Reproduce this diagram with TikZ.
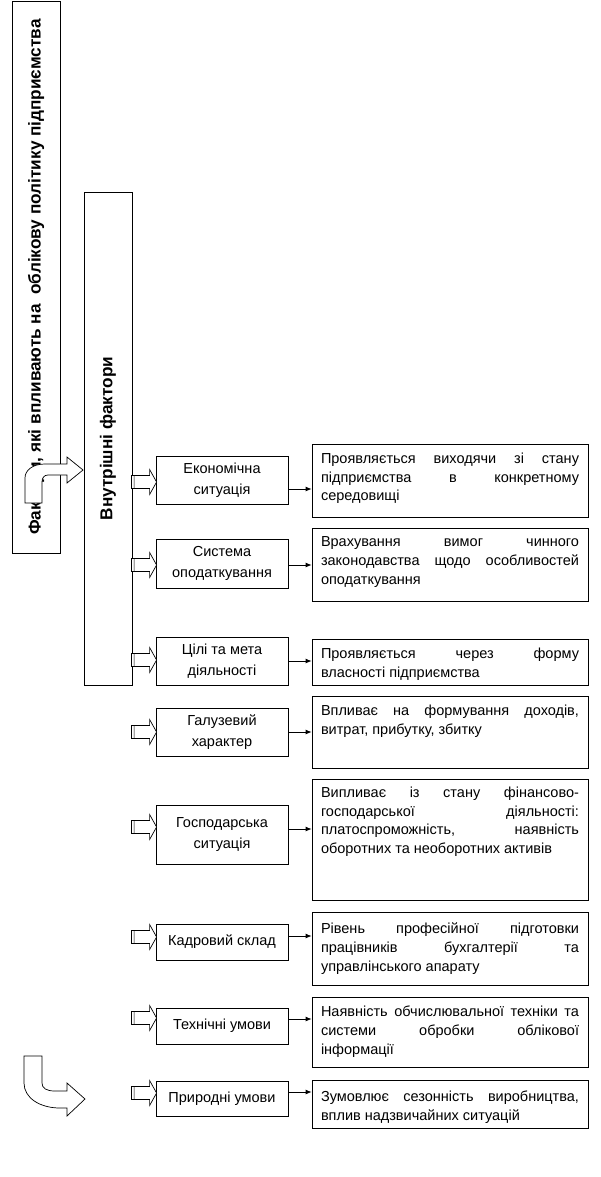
\documentclass[tikz,border=0pt]{standalone}
\usepackage{fontspec}
\setmainfont{Liberation Sans}
\usetikzlibrary{arrows.meta,calc}
\newcommand\blockarr[2]{%
  \begin{scope}[shift={($(#1.west)+(0,#2)$)}]
    \draw[blk] (-24,-6.5) rectangle (-21.5,6.5);
    \draw[blk] (-21.5,-6.5) -- (-6,-6.5) -- (-6,-12.5) -- (1,0) -- (-6,12.5) -- (-6,6.5) -- (-21.5,6.5) -- cycle;
  \end{scope}}
\begin{document}
\begin{tikzpicture}[x=1pt,y=-1pt,line width=0.8pt,
  fbox/.style={draw, minimum width=132pt, align=center, inner sep=0pt, font=\fontsize{14.5}{20.5}\selectfont},
  tbox/.style={draw, minimum width=276pt, inner sep=0pt},
  ttext/.style={anchor=north west, inner sep=0pt, text width=258pt, align=justify, font=\fontsize{14.5}{18.7}\selectfont},
  vbox/.style={draw, rotate=90, minimum height=48pt, inner sep=0pt, font=\bfseries\fontsize{17.2}{17}\selectfont},
  conn/.style={-{Latex[length=6pt,width=5pt]}},
  blk/.style={draw, fill=white, line width=0.7pt},
  bent/.style={draw, fill=white, line width=0.7pt}]
\useasboundingbox (0,0) rectangle (601,1177);

% vertical boxes
\node[vbox, minimum width=552pt] (outer) at (36,277) {Фактори, які впливають на~ облікову політику підприємства};
\node[vbox, minimum width=493pt] (inner) at (108,438.5) {Внутрішні фактори};

% factor boxes
\node[fbox, minimum height=48pt] (f1) at (222,480) {Економічна\\ситуація};
\node[fbox, minimum height=49pt] (f2) at (222,563.5) {Система\\оподаткування};
\node[fbox, minimum height=48pt] (f3) at (222,661) {Цілі та мета\\діяльності};
\node[fbox, minimum height=48pt] (f4) at (222,732) {Галузевий\\характер};
\node[fbox, minimum height=59pt] (f5) at (222,834.5) {Господарська\\ситуація};
\node[fbox, minimum height=36pt] (f6) at (222,942) {Кадровий склад};
\node[fbox, minimum height=36pt] (f7) at (222,1026) {Технічні умови};
\node[fbox, minimum height=35pt] (f8) at (222,1098.5) {Природні умови};

% text boxes
\node[tbox, minimum height=73pt] (t1) at (450,480.5) {};
\node[tbox, minimum height=73pt] (t2) at (450,564.5) {};
\node[tbox, minimum height=46pt] (t3) at (450,662) {};
\node[tbox, minimum height=72pt] (t4) at (450,732) {};
\node[tbox, minimum height=121pt] (t5) at (450,839.5) {};
\node[tbox, minimum height=73pt] (t6) at (450,948.5) {};
\node[tbox, minimum height=70pt] (t7) at (450,1032) {};
\node[tbox, minimum height=48pt] (t8) at (450,1104) {};

\node[ttext] (x1) at ([shift={(9,9)}]t1.north west) {Проявляється виходячи зі стану\linebreak підприємства в конкретному\linebreak середовищі};
\node[ttext] (x2) at ([shift={(9,9)}]t2.north west) {Врахування вимог чинного\linebreak законодавства щодо особливостей\linebreak оподаткування};
\node[ttext] (x3) at ([shift={(9,9)}]t3.north west) {Проявляється через форму\linebreak власності підприємства};
\node[ttext] (x4) at ([shift={(9,9)}]t4.north west) {Впливає на формування доходів,\linebreak витрат, прибутку, збитку};
\node[ttext] (x5) at ([shift={(9,8)}]t5.north west) {Випливає із стану фінансово-\linebreak господарської діяльності:\linebreak платоспроможність, наявність\linebreak оборотних та необоротних активів};
\node[ttext] (x6) at ([shift={(9,11)}]t6.north west) {Рівень професійної підготовки\linebreak працівників бухгалтерії та\linebreak управлінського апарату};
\node[ttext] (x7) at ([shift={(9,9)}]t7.north west) {Наявність обчислювальної техніки та\linebreak системи обробки облікової\linebreak інформації};
\node[ttext] (x8) at ([shift={(9,11)}]t8.north west) {Зумовлює сезонність виробництва,\linebreak вплив надзвичайних ситуацій};

% connectors
\draw[conn] ([yshift=-9pt]f1.east) -- ([yshift=-9pt]f1.east -| t1.west);
\draw[conn] ([yshift=-1.5pt]f2.east) -- ([yshift=-1.5pt]f2.east -| t2.west);
\draw[conn] (f3.east) -- (f3.east -| t3.west);
\draw[conn] (f4.east) -- (f4.east -| t4.west);
\draw[conn] ([yshift=5.5pt]f5.east) -- ([yshift=5.5pt]f5.east -| t5.west);
\draw[conn] ([yshift=6pt]f6.east) -- ([yshift=6pt]f6.east -| t6.west);
\draw[conn] ([yshift=7pt]f7.east) -- ([yshift=7pt]f7.east -| t7.west);
\draw[conn] ([yshift=6.5pt]f8.east) -- ([yshift=6.5pt]f8.east -| t8.west);

% block arrows
\blockarr{f1}{2}
\blockarr{f2}{1.5}
\blockarr{f3}{-1}
\blockarr{f4}{0}
\blockarr{f5}{-7.5}
\blockarr{f6}{-5}
\blockarr{f7}{-8}
\blockarr{f8}{-5.5}

% bent arrows
\draw[bent] (25,503) -- (25,478) .. controls (25,470) and (33,464) .. (45,464) -- (67,464) -- (67,457) -- (83,470) -- (67,483) -- (67,475) -- (48,475) .. controls (44,475) and (42,478) .. (42,482) -- (42,503) -- cycle;
\draw[bent] (24,1056) -- (24,1083) .. controls (24,1098) and (40,1108) .. (60,1108) -- (67,1108) -- (67,1116) -- (85,1099) -- (67,1083) -- (67,1091) -- (55,1091) .. controls (46,1091) and (42,1088) .. (42,1083) -- (42,1056) -- cycle;
\end{tikzpicture}
\end{document}
